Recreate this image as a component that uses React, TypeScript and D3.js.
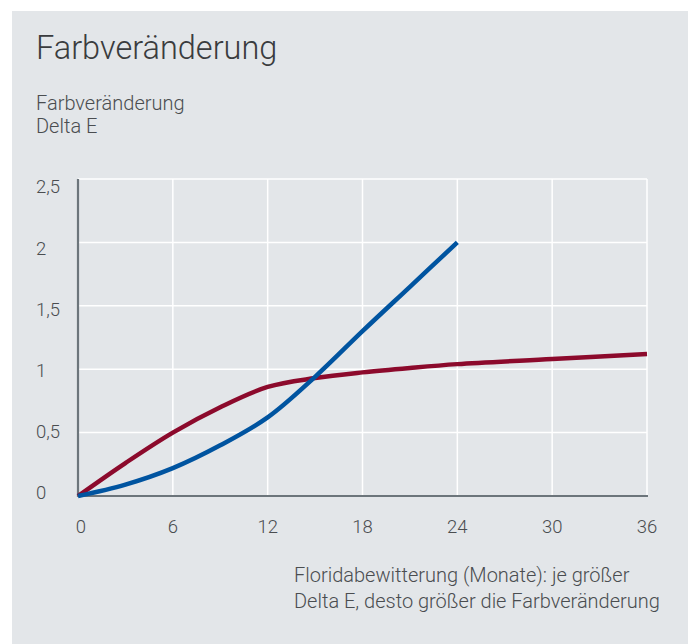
import React, { useEffect, useRef } from "react";
import * as d3 from "d3";

// months of Florida weathering
const months = [0, 3, 6, 9, 12, 15, 18, 21, 24, 30, 36];
// Delta E, red series (ends at 36 months)
const redValues = [0, 0.26, 0.5, 0.7, 0.86, 0.93, 0.975, 1.01, 1.04, 1.08, 1.12];
// Delta E, blue series (ends at 24 months)
const blueValues = [0, 0.09, 0.22, 0.4, 0.62, 0.94, 1.3, 1.65, 2.0];

const xTicks = [0, 6, 12, 18, 24, 30, 36];
const yTicks = [0, 0.5, 1, 1.5, 2, 2.5];
const yTickLabels = ["0", "0,5", "1", "1,5", "2", "2,5"];

const title = "Farbveränderung";
const yTitle = ["Farbveränderung", "Delta E"];
const footer = [
  "Floridabewitterung (Monate): je größer",
  "Delta E, desto größer die Farbveränderung",
];

const FONT = "Roboto, sans-serif";

const App = () => {
  const svgRef = useRef<SVGSVGElement>(null);

  useEffect(() => {
    const svg = d3.select(svgRef.current);
    svg.selectAll("*").remove();

    const W = 688;
    const H = 644;

    svg.append("rect").attr("x", 12).attr("y", 11).attr("width", W - 12).attr("height", H - 11).attr("fill", "#e3e6e9");

    const x = d3.scaleLinear().domain([0, 36]).range([78, 647]);
    const y = d3.scaleLinear().domain([0, 2.5]).range([496, 179]);
    // tick labels sit slightly off the grid in the original
    const yLab = d3.scaleLinear().domain([0, 2.5]).range([493, 187]);

    // grid
    svg
      .append("g")
      .selectAll("line")
      .data(xTicks.slice(1))
      .join("line")
      .attr("x1", (d) => x(d))
      .attr("x2", (d) => x(d))
      .attr("y1", y(2.5))
      .attr("y2", y(0))
      .attr("stroke", "#ffffff")
      .attr("stroke-width", 1.5);

    svg
      .append("g")
      .selectAll("line")
      .data(yTicks.slice(1))
      .join("line")
      .attr("x1", x(0))
      .attr("x2", x(36))
      .attr("y1", (d) => y(d))
      .attr("y2", (d) => y(d))
      .attr("stroke", "#ffffff")
      .attr("stroke-width", 1.5);

    // axes
    svg
      .append("line")
      .attr("x1", x(0))
      .attr("x2", x(0))
      .attr("y1", y(2.5))
      .attr("y2", y(0) + 1)
      .attr("stroke", "#6c757b")
      .attr("stroke-width", 2.2);
    svg
      .append("line")
      .attr("x1", x(0) - 1)
      .attr("x2", x(36) + 1)
      .attr("y1", y(0))
      .attr("y2", y(0))
      .attr("stroke", "#6c757b")
      .attr("stroke-width", 2.2);

    // tick labels
    svg
      .append("g")
      .selectAll("text")
      .data(yTicks)
      .join("text")
      .attr("x", 36)
      .attr("y", (d) => yLab(d))
      .attr("dy", "0.35em")
      .text((d, i) => yTickLabels[i])
      .attr("font-family", FONT)
      .attr("font-weight", 300)
      .attr("font-size", 18.5)
      .attr("fill", "#4a4d50");

    svg
      .append("g")
      .selectAll("text")
      .data(xTicks)
      .join("text")
      .attr("x", (d) => x(d) + (d === 0 ? 3 : 0))
      .attr("y", 527)
      .attr("dy", "0.35em")
      .attr("text-anchor", "middle")
      .text((d) => d)
      .attr("font-family", FONT)
      .attr("font-weight", 300)
      .attr("font-size", 18.5)
      .attr("fill", "#4a4d50");

    // lines
    const line = d3
      .line<number>()
      .x((d, i) => x(months[i]))
      .y((d) => y(d))
      .curve(d3.curveCatmullRom.alpha(0.5));

    svg
      .append("path")
      .datum(redValues)
      .attr("d", line)
      .attr("fill", "none")
      .attr("stroke", "#8c0a2c")
      .attr("stroke-width", 4.5);

    svg
      .append("path")
      .datum(blueValues)
      .attr("d", line)
      .attr("fill", "none")
      .attr("stroke", "#0054a0")
      .attr("stroke-width", 4.5);

    // titles
    svg
      .append("text")
      .attr("x", 36)
      .attr("y", 59)
      .text(title)
      .attr("font-family", FONT)
      .attr("font-weight", 300)
      .attr("font-size", 32.5)
      .attr("fill", "#3a3c3e");

    svg
      .append("g")
      .selectAll("text")
      .data(yTitle)
      .join("text")
      .attr("x", 36)
      .attr("y", (d, i) => 110 + i * 23)
      .text((d) => d)
      .attr("font-family", FONT)
      .attr("font-weight", 300)
      .attr("font-size", 20)
      .attr("fill", "#4a4d50");

    svg
      .append("g")
      .selectAll("text")
      .data(footer)
      .join("text")
      .attr("x", 294)
      .attr("y", (d, i) => 582 + i * 26)
      .text((d) => d)
      .attr("font-family", FONT)
      .attr("font-weight", 300)
      .attr("font-size", 20)
      .attr("fill", "#4a4d50");
  }, []);

  return (
    <svg
      ref={svgRef}
      width={688}
      height={644}
      style={{ position: "absolute", left: 0, top: 0, display: "block", background: "#ffffff" }}
    ></svg>
  );
};

export default App;
